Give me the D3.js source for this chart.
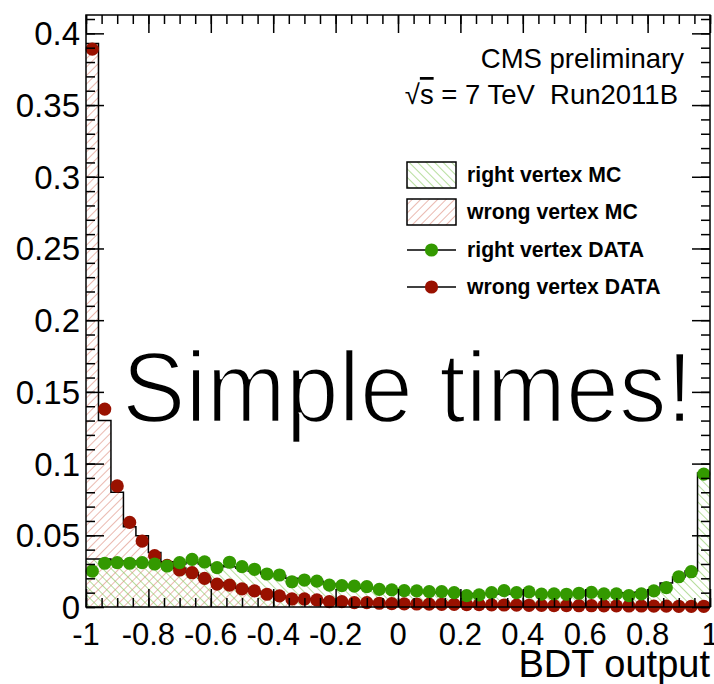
<!DOCTYPE html>
<html>
<head>
<meta charset="utf-8">
<script src="https://cdn.jsdelivr.net/npm/d3@7"></script>
<style>
  body { margin: 0; background: #fff; }
  svg { display: block; font-family: "Liberation Sans", Arial, Helvetica, sans-serif; }
</style>
</head>
<body>
<div id="chart"></div>
<script>
// bin lower edges: 50 bins from -1 to 1
var binEdges = d3.range(51).map(function (i) { return -1 + i * 0.04; });

// right vertex DATA (green points)
var rightData = [0.025, 0.0305, 0.031, 0.0305, 0.031, 0.030, 0.0286, 0.031, 0.0332, 0.0314,
                 0.0274, 0.0312, 0.0281, 0.0263, 0.023, 0.0223, 0.0176, 0.0188, 0.0181, 0.0153,
                 0.0149, 0.0146, 0.0142, 0.0123, 0.0119, 0.0114, 0.0112, 0.0107, 0.0107, 0.0100,
                 0.0079, 0.0084, 0.0100, 0.0114, 0.0100, 0.0105, 0.0090, 0.0091, 0.0089, 0.0096,
                 0.0102, 0.0091, 0.0091, 0.0079, 0.0091, 0.0112, 0.0135, 0.0211, 0.0246, 0.0927];

// wrong vertex DATA (red points)
var wrongData = [0.389, 0.138, 0.0844, 0.059, 0.046, 0.0358, 0.029, 0.0258, 0.0239, 0.020,
                 0.016, 0.0153, 0.0126, 0.0112, 0.0089, 0.0077, 0.0056, 0.0056, 0.0049, 0.0037,
                 0.0037, 0.003, 0.003, 0.0026, 0.0024, 0.0022, 0.0021, 0.002, 0.0019, 0.0018,
                 0.0017, 0.0016, 0.0015, 0.0014, 0.0013, 0.0012, 0.0011, 0.001, 0.001, 0.0009,
                 0.0009, 0.0008, 0.0008, 0.0007, 0.0007, 0.0006, 0.0006, 0.0005, 0.0005, 0.0005];

// right vertex MC (green hatched histogram)
var rightMC = [0.0335, 0.0335, 0.032, 0.032, 0.031, 0.031, 0.030, 0.030, 0.031, 0.030,
               0.029, 0.028, 0.027, 0.025, 0.023, 0.022, 0.020, 0.019, 0.018, 0.016,
               0.015, 0.014, 0.013, 0.0125, 0.012, 0.0115, 0.011, 0.0105, 0.010, 0.0098,
               0.0095, 0.0093, 0.0092, 0.009, 0.009, 0.009, 0.0088, 0.0088, 0.0088, 0.009,
               0.009, 0.0092, 0.0095, 0.010, 0.0105, 0.012, 0.0167, 0.021, 0.0251, 0.0934];

// wrong vertex MC (red hatched histogram)
var wrongMC = [0.393, 0.130, 0.080, 0.056, 0.0497, 0.038, 0.0316, 0.027, 0.024, 0.020,
               0.017, 0.015, 0.013, 0.011, 0.009, 0.0078, 0.0065, 0.0058, 0.005, 0.0042,
               0.0037, 0.0032, 0.003, 0.0027, 0.0025, 0.0023, 0.0021, 0.002, 0.0019, 0.0018,
               0.0017, 0.0016, 0.0015, 0.0014, 0.0013, 0.0012, 0.0011, 0.001, 0.001, 0.0009,
               0.0009, 0.0008, 0.0008, 0.0007, 0.0007, 0.0006, 0.0006, 0.0005, 0.0005, 0.0005];

// tick values and labels
var xMajor = [-1, -0.8, -0.6, -0.4, -0.2, 0, 0.2, 0.4, 0.6, 0.8, 1];
var xLabels = ['-1', '-0.8', '-0.6', '-0.4', '-0.2', '0', '0.2', '0.4', '0.6', '0.8', '1'];
var yMajor = [0, 0.05, 0.1, 0.15, 0.2, 0.25, 0.3, 0.35, 0.4];
var yLabels = ['0', '0.05', '0.1', '0.15', '0.2', '0.25', '0.3', '0.35', '0.4'];

var legendNames = ['right vertex MC', 'wrong vertex MC', 'right vertex DATA', 'wrong vertex DATA'];

const width = 714;
const height = 684;
const pLeft = 86, pRight = 710, pTop = 15, pBottom = 607;
const greenHatch = '#86c85c';
const redHatch = '#dc8a7a';
const greenPt = '#339900';
const redPt = '#991100';

const xScale = d3.scaleLinear().domain([-1, 1]).range([pLeft, pRight]);
const yScale = d3.scaleLinear().domain([0, 0.4128]).range([pBottom, pTop]);

let svg = d3.select('#chart').append('svg')
    .attr('width', width)
    .attr('height', height);

// hatch patterns
let defs = svg.append('defs');
function hatch(id, colour, angle){
    let p = defs.append('pattern')
        .attr('id', id)
        .attr('patternUnits', 'userSpaceOnUse')
        .attr('width', 6).attr('height', 6)
        .attr('patternTransform', 'rotate(' + angle + ')');
    p.append('line')
        .attr('x1', 0).attr('y1', 0).attr('x2', 0).attr('y2', 6)
        .attr('stroke', colour).attr('stroke-width', 1.2);
}
hatch('hatchGreen', greenHatch, -45);
hatch('hatchRed', redHatch, 45);

// step path helpers, one point per bin edge
function stepPoints(values){
    let pts = values.map(function (v, i){ return [binEdges[i], v]; });
    pts.push([binEdges[50], values[values.length - 1]]);
    return pts;
}
const area = d3.area()
    .x(function (d){ return xScale(d[0]); })
    .y0(yScale(0))
    .y1(function (d){ return yScale(d[1]); })
    .curve(d3.curveStepAfter);
const line = d3.line()
    .x(function (d){ return xScale(d[0]); })
    .y(function (d){ return yScale(d[1]); })
    .curve(d3.curveStepAfter);

// histograms
let plot = svg.append('g');
plot.append('path').datum(stepPoints(wrongMC)).attr('d', area).attr('fill', 'url(#hatchRed)');
plot.append('path').datum(stepPoints(rightMC)).attr('d', area).attr('fill', 'url(#hatchGreen)');
plot.append('path').datum(stepPoints(wrongMC)).attr('d', line)
    .attr('fill', 'none').attr('stroke', '#000').attr('stroke-width', 1.5);
plot.append('path').datum(stepPoints(rightMC)).attr('d', line)
    .attr('fill', 'none').attr('stroke', '#000').attr('stroke-width', 1.5);

// data points
function points(values, colour){
    plot.append('g').selectAll('circle')
        .data(values)
        .enter()
        .append('circle')
            .attr('cx', function (d, i){ return xScale((binEdges[i] + binEdges[i + 1]) / 2); })
            .attr('cy', function (d){ return yScale(d); })
            .attr('r', 6.6)
            .attr('fill', colour);
}
points(wrongData, redPt);
points(rightData, greenPt);

// axes: ticks on all four sides, pointing inward
const xMinor = d3.range(41).map(function (i){ return -1 + i * 0.05; });
const yMinor = d3.range(42).map(function (i){ return i * 0.01; });

function axisGroup(axis, tx, ty){
    let g = svg.append('g').attr('transform', 'translate(' + tx + ',' + ty + ')').call(axis);
    g.selectAll('text').remove();
    g.select('.domain').remove();
    g.selectAll('line').attr('stroke', '#000').attr('stroke-width', 1.5);
    return g;
}
axisGroup(d3.axisBottom(xScale).tickValues(xMajor).tickSize(-18), 0, pBottom);
axisGroup(d3.axisBottom(xScale).tickValues(xMinor).tickSize(-9), 0, pBottom);
axisGroup(d3.axisTop(xScale).tickValues(xMajor).tickSize(-18), 0, pTop);
axisGroup(d3.axisTop(xScale).tickValues(xMinor).tickSize(-9), 0, pTop);
axisGroup(d3.axisLeft(yScale).tickValues(yMajor).tickSize(-18), pLeft, 0);
axisGroup(d3.axisLeft(yScale).tickValues(yMinor).tickSize(-9), pLeft, 0);
axisGroup(d3.axisRight(yScale).tickValues(yMajor).tickSize(-18), pRight, 0);
axisGroup(d3.axisRight(yScale).tickValues(yMinor).tickSize(-9), pRight, 0);

// frame
svg.append('rect')
    .attr('x', pLeft).attr('y', pTop)
    .attr('width', pRight - pLeft).attr('height', pBottom - pTop)
    .attr('fill', 'none').attr('stroke', '#000').attr('stroke-width', 1.5);

// tick labels
svg.append('g').selectAll('text')
    .data(xMajor)
    .enter()
    .append('text')
        .attr('x', function (d){ return xScale(d); })
        .attr('y', 645)
        .attr('text-anchor', 'middle')
        .attr('font-size', 31)
        .text(function (d, i){ return xLabels[i]; });
svg.append('g').selectAll('text')
    .data(yMajor)
    .enter()
    .append('text')
        .attr('x', 80)
        .attr('y', function (d){ return yScale(d) + 12; })
        .attr('text-anchor', 'end')
        .attr('font-size', 33)
        .text(function (d, i){ return yLabels[i]; });

// axis title
svg.append('text')
    .attr('x', 710).attr('y', 677)
    .attr('text-anchor', 'end')
    .attr('font-size', 38)
    .text('BDT output');

// CMS labels
svg.append('text')
    .attr('x', 684).attr('y', 68)
    .attr('text-anchor', 'end')
    .attr('font-size', 27.5)
    .text('CMS preliminary');
let energy = svg.append('text')
    .attr('x', 678).attr('y', 104)
    .attr('text-anchor', 'end')
    .attr('font-size', 27.5)
    .style('white-space', 'pre');
energy.append('tspan').text('\u221A');
energy.append('tspan').style('text-decoration', 'overline').text('s');
energy.append('tspan').text(' = 7 TeV  Run2011B');

// legend
let legend = svg.append('g');
const legY = [175, 212, 250, 287];
legend.append('rect').attr('x', 407).attr('y', 162).attr('width', 49).attr('height', 26)
    .attr('fill', 'url(#hatchGreen)').attr('stroke', '#000').attr('stroke-width', 1.5);
legend.append('rect').attr('x', 407).attr('y', 199).attr('width', 49).attr('height', 26)
    .attr('fill', 'url(#hatchRed)').attr('stroke', '#000').attr('stroke-width', 1.5);
[greenPt, redPt].forEach(function (c, k){
    legend.append('line').attr('x1', 407).attr('x2', 456)
        .attr('y1', legY[k + 2]).attr('y2', legY[k + 2])
        .attr('stroke', '#000').attr('stroke-width', 1.5);
    legend.append('circle').attr('cx', 431.5).attr('cy', legY[k + 2]).attr('r', 6.6).attr('fill', c);
});
legend.selectAll('text')
    .data(legendNames)
    .enter()
    .append('text')
        .attr('x', 467)
        .attr('y', function (d, i){ return legY[i] + 7; })
        .attr('font-size', 21.2)
        .attr('font-weight', 'bold')
        .text(function (d){ return d; });

// big overlay text, thinned with a white outline to look like a light face
svg.append('text')
    .attr('x', 122).attr('y', 422)
    .attr('font-size', 100)
    .attr('textLength', 571)
    .attr('lengthAdjust', 'spacingAndGlyphs')
    .attr('stroke', '#fff')
    .attr('stroke-width', 2.5)
    .text('Simple times!');
</script>
</body>
</html>
